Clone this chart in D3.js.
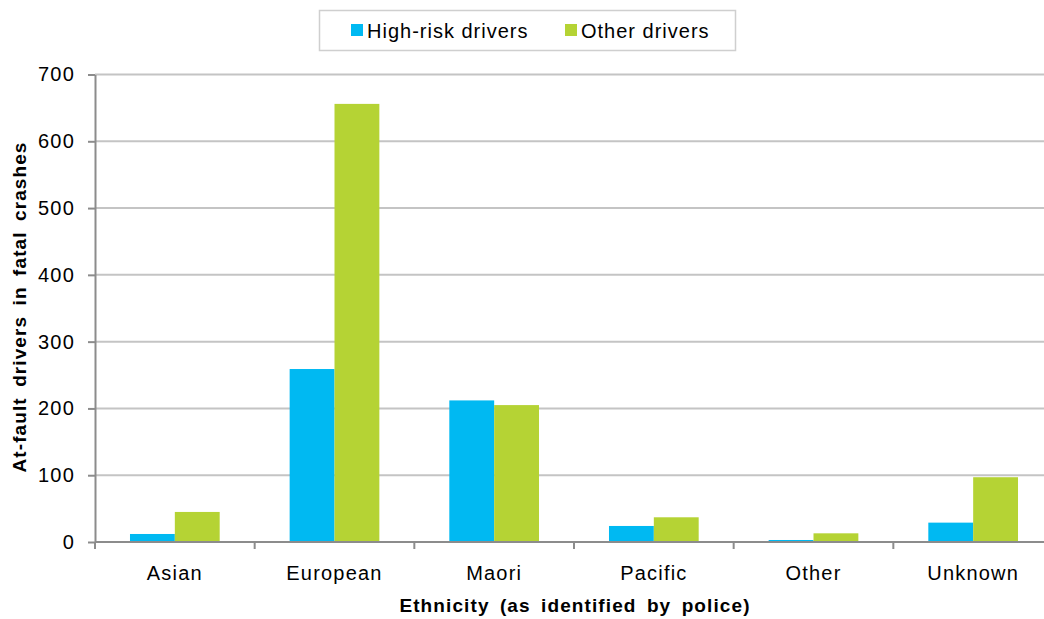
<!DOCTYPE html>
<html>
<head>
<meta charset="utf-8">
<script src="https://cdn.jsdelivr.net/npm/d3@7"></script>
<style>
  body { margin: 0; background: #fff; }
  svg { display: block; font-family: "Liberation Sans", Arial, sans-serif; }
  .grid line { stroke: #c4c4c4; stroke-width: 2; }
  .axis path, .axis line { stroke: #8c8c8c; stroke-width: 2; }
  .axis text { font-size: 20px; fill: #000; letter-spacing: 1.2px; }
  .title { font-size: 19px; font-weight: bold; letter-spacing: 1.1px; word-spacing: 4px; }
  .legend text { font-size: 20px; letter-spacing: 1px; }
</style>
</head>
<body>
<svg id="chart" width="1044" height="619"></svg>
<script>
// data
var categories = ["Asian", "European", "Maori", "Pacific", "Other", "Unknown"]
var highRisk = [12, 259, 212, 24, 3, 29]
var otherDrivers = [45, 656, 205, 37, 13, 97]
var seriesNames = ["High-risk drivers", "Other drivers"]
var colors = ["#00b9f2", "#b5d334"]
var yTicks = [0, 100, 200, 300, 400, 500, 600, 700]

var svg = d3.select("#chart")
var plotLeft = 95, plotRight = 1053, plotTop = 74.5, plotBottom = 542

var x = d3.scaleBand().domain(categories).range([plotLeft, plotRight]).paddingInner(0).paddingOuter(0)
var xs = d3.scaleBand().domain([0, 1]).range([0, x.bandwidth()]).paddingOuter(0.78).paddingInner(0)
var y = d3.scaleLinear().domain([0, 700]).range([plotBottom, plotTop])

// gridlines
svg.append("g")
    .attr("class", "grid")
    .selectAll("line")
    .data(yTicks.slice(1))
    .enter().append("line")
    .attr("x1", plotLeft).attr("x2", plotRight)
    .attr("y1", function(d) { return y(d) })
    .attr("y2", function(d) { return y(d) })

// bars
var series = [highRisk, otherDrivers]
series.forEach(function(vals, i) {
    svg.append("g").selectAll("rect")
        .data(categories)
        .enter().append("rect")
        .attr("x", function(d) { return x(d) + xs(i) })
        .attr("width", xs.bandwidth())
        .attr("y", function(d, j) { return y(vals[j]) })
        .attr("height", function(d, j) { return plotBottom - y(vals[j]) })
        .attr("fill", colors[i])
})

// y axis
svg.append("g")
    .attr("class", "axis")
    .attr("transform", "translate(" + plotLeft + ",0)")
    .call(d3.axisLeft(y).tickValues(yTicks).tickSize(7).tickPadding(13).tickSizeOuter(0))

// x axis with ticks between categories
var xAxis = svg.append("g")
    .attr("class", "axis")
    .attr("transform", "translate(0," + plotBottom + ")")
xAxis.append("line")
    .attr("x1", plotLeft).attr("x2", plotRight).attr("y1", 0).attr("y2", 0)
xAxis.selectAll(".sep")
    .data(categories)
    .enter().append("line")
    .attr("class", "sep")
    .attr("x1", function(d) { return x(d) }).attr("x2", function(d) { return x(d) })
    .attr("y1", 0).attr("y2", 7)
xAxis.selectAll("text")
    .data(categories)
    .enter().append("text")
    .attr("x", function(d) { return x(d) + x.bandwidth() / 2 })
    .attr("y", 38)
    .attr("text-anchor", "middle")
    .text(function(d) { return d })

// axis titles
svg.append("text")
    .attr("class", "title")
    .attr("x", 575).attr("y", 612)
    .attr("text-anchor", "middle")
    .text("Ethnicity (as identified by police)")

svg.append("text")
    .attr("class", "title")
    .attr("transform", "translate(26,307) rotate(-90)")
    .attr("text-anchor", "middle")
    .text("At-fault drivers in fatal crashes")

// legend
var legend = svg.append("g").attr("class", "legend")
legend.append("rect")
    .attr("x", 319.5).attr("y", 10.5).attr("width", 416).attr("height", 40)
    .attr("fill", "#fff").attr("stroke", "#cfcfcf").attr("stroke-width", 1.5)
var lx = [351, 565]
seriesNames.forEach(function(name, i) {
    legend.append("rect")
        .attr("x", lx[i]).attr("y", 24).attr("width", 12).attr("height", 12)
        .attr("fill", colors[i])
    legend.append("text")
        .attr("x", lx[i] + 16).attr("y", 38)
        .text(name)
})
</script>
</body>
</html>
